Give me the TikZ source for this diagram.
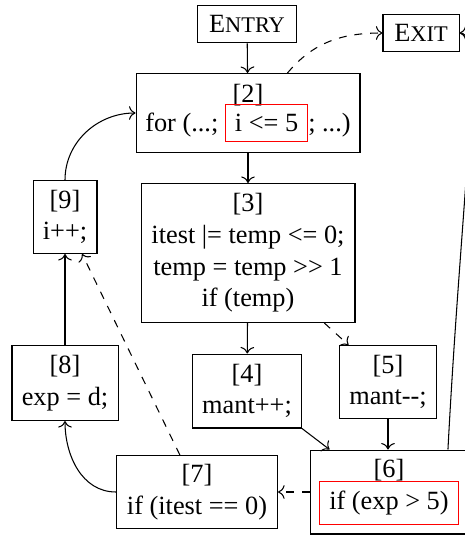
\documentclass[tikz,border=0pt]{standalone}
\usepackage{fontspec}
\setmainfont{Liberation Serif}
\usetikzlibrary{arrows.meta}

% faked small capitals for the entry/exit labels
\newcommand{\fsc}[2]{#1{\fontsize{8.5}{10}\selectfont #2}}
% condition inside a red frame
\newcommand{\cond}[1]{{\setlength{\fboxsep}{3.4pt}\textcolor{red}{\fbox{\textcolor{black}{#1}}}}}

\begin{document}
\begin{tikzpicture}[x=0.38pt,y=0.38pt]
  \tikzstyle{every node}=[draw,align=center,inner sep=0pt]
  \tikzstyle{flow}=[->]
  \tikzstyle{cut}=[->,dashed]
  \useasboundingbox (0,0) rectangle (465,-536);
  \clip (0,0) rectangle (465,-536);
  \node[minimum width=37.6pt,minimum height=14.4pt] (entry) at (247,-24) {\fsc{E}{NTRY}};
  \node[minimum width=28.9pt,minimum height=14.4pt] (exit) at (421,-33) {\fsc{E}{XIT}};
  \node[minimum width=85.1pt,minimum height=30pt] (n2) at (248,-113) {[2]\\[-1pt]for (...; \cond{i <= 5}; ...)};
  \node[minimum width=24.3pt,minimum height=27.7pt] (n9) at (65,-217) {[9]\\i++;};
  \node[minimum width=81.3pt,minimum height=52.8pt] (n3) at (248,-253) {[3]\\itest |= temp <= 0;\\temp = temp >{}> 1\\if (temp)};
  \node[minimum width=40.3pt,minimum height=28.5pt] (n8) at (65,-383) {[8]\\exp = d;};
  \node[minimum width=41.4pt,minimum height=28.1pt] (n4) at (247,-391) {[4]\\mant++;};
  \node[minimum width=36.9pt,minimum height=27.7pt] (n5) at (388,-382) {[5]\\mant-{}-;};
  \node[minimum width=61.2pt,minimum height=27.7pt] (n7) at (197,-492) {[7]\\if (itest == 0)};
  \node[minimum width=60pt,minimum height=31.9pt] (n6) at (389,-492) {[6]\\[-1pt]\cond{if (exp > 5)}};

  \draw[flow] (entry) -- (n2);
  \draw[cut] ([xshift=15pt]n2.north) to[out=50,in=180] (exit);
  \draw[flow] (n2) -- (n3);
  \draw[flow] (n3) -- (n4);
  \draw[cut] ([xshift=29pt]n3.south) -- ([xshift=-15pt]n5.north);
  \draw[flow] (n4.south east) -- ([xshift=7.6pt]n6.north west);
  \draw[flow] (n5) -- (n5 |- n6.north);
  \draw[cut] (n6) -- (n7);
  \draw[flow] (n7.west) to[out=180,in=-90] (n8.south);
  \draw[flow] (n8) -- (n9);
  \draw[cut] ([xshift=-6.5pt]n7.north) -- ([xshift=6.5pt]n9.south);
  \draw[flow] (n9.north) to[out=90,in=180] (n2.west);
  \draw[flow] ([xshift=22.4pt]n6.north) .. controls +(87:95pt) and +(0:9.5pt) .. (exit.east);
\end{tikzpicture}
\end{document}
